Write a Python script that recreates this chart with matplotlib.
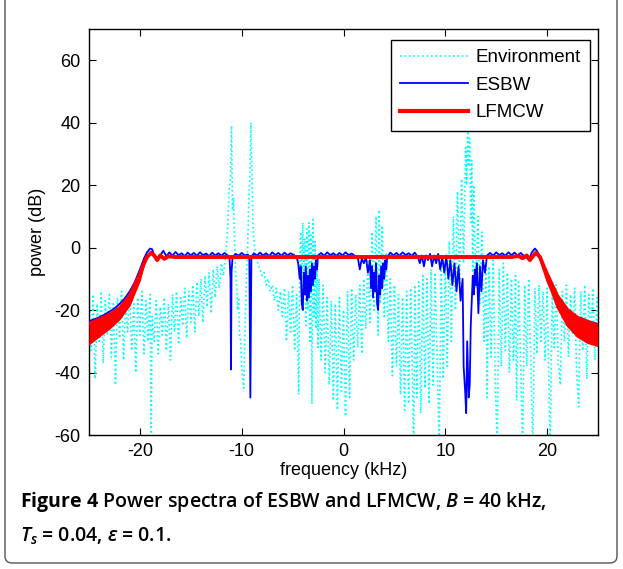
import numpy as np
import matplotlib
matplotlib.use("Agg")
import matplotlib.pyplot as plt
from matplotlib.patches import FancyBboxPatch
from matplotlib.lines import Line2D

# ---------------- data ----------------
env_freq = [-25.0, -24.8, -24.6, -24.4, -24.2, -24.0, -23.8, -23.6, -23.4, -23.2,
            -23.0, -22.8, -22.6, -22.4, -22.2, -22.0, -21.8, -21.6, -21.4, -21.2,
            -21.0, -20.8, -20.6, -20.4, -20.2, -20.0, -19.8, -19.6, -19.4, -19.2,
            -19.0, -18.9, -18.8, -18.6, -18.4, -18.2, -18.0, -17.8, -17.6, -17.4,
            -17.2, -17.0, -16.8, -16.6, -16.4, -16.2, -16.0, -15.8, -15.6, -15.4,
            -15.2, -15.0, -14.8, -14.6, -14.4, -14.2, -14.0, -13.8, -13.6, -13.4,
            -13.2, -13.0, -12.8, -12.6, -12.4, -12.2, -12.0, -11.8, -11.6, -11.4,
            -11.25, -11.1, -11.0, -10.9, -10.8, -10.7, -10.6, -10.5, -10.4, -10.3,
            -10.2, -10.1, -10.0, -9.9, -9.8, -9.7, -9.6, -9.5, -9.4, -9.3,
            -9.2, -9.1, -9.0, -8.9, -8.8, -8.6, -8.4, -8.2, -8.0, -7.8,
            -7.6, -7.4, -7.2, -7.0, -6.8, -6.6, -6.4, -6.2, -6.0, -5.8,
            -5.6, -5.4, -5.2, -5.0, -4.8, -4.6, -4.4, -4.3, -4.2, -4.1,
            -4.0, -3.9, -3.8, -3.7, -3.6, -3.5, -3.4, -3.3, -3.2, -3.1,
            -3.0, -2.9, -2.8, -2.7, -2.6, -2.5, -2.4, -2.2, -2.0, -1.8,
            -1.6, -1.4, -1.2, -1.0, -0.8, -0.6, -0.4, -0.2, 0.0, 0.2,
            0.4, 0.6, 0.8, 1.0, 1.2, 1.4, 1.6, 1.8, 2.0, 2.2,
            2.4, 2.6, 2.8, 3.0, 3.2, 3.4, 3.5, 3.6, 3.8, 4.0,
            4.2, 4.4, 4.6, 4.8, 5.0, 5.2, 5.4, 5.6, 5.8, 6.0,
            6.2, 6.4, 6.6, 6.9, 7.0, 7.2, 7.4, 7.6, 7.8, 8.0,
            8.2, 8.4, 8.6, 8.8, 9.0, 9.4, 9.6, 9.8, 10.0, 10.2,
            10.4, 10.6, 10.8, 11.0, 11.2, 11.4, 11.6, 11.8, 12.0, 12.1,
            12.2, 12.3, 12.4, 12.5, 12.6, 12.7, 12.8, 13.0, 13.2, 13.4,
            13.6, 13.8, 14.0, 14.1, 14.3, 14.5, 14.7, 14.9, 15.1, 15.3,
            15.5, 15.7, 15.9, 16.1, 16.3, 16.5, 16.7, 16.9, 17.0, 17.2,
            17.6, 17.8, 18.0, 18.2, 18.6, 18.8, 19.0, 19.2, 19.4, 19.6,
            19.8, 20.0, 20.3, 20.5, 20.7, 20.9, 21.1, 21.3, 21.5, 21.7,
            21.9, 22.1, 22.3, 22.5, 22.7, 22.9, 23.1, 23.3, 23.5, 23.7,
            23.9, 24.1, 24.3, 24.5, 24.7, 24.9, 25.0]
env_power = [-16, -33, -15, -42, -18, -30, -14, -37, -17, -28,
             -15, -35, -18, -44, -16, -29, -14, -36, -17, -27,
             -15, -33, -18, -40, -16, -28, -14, -34, -17, -30,
             -15, -66, -22, -30, -17, -34, -19, -28, -16, -33,
             -18, -36, -15, -27, -14, -31, -16, -25, -13, -29,
             -14, -24, -12, -27, -11, -22, -10, -24, -9, -19,
             -8, -21, -7, -16, -6, -13, -5, -9, -3, 5,
             18, 22, 39, 12, 16, 2, -8, -12, -20, -16,
             -28, -30, -38, -42, -45, -30, -18, -5, 2, 15,
             22, 40, 24, 8, 2, -3, -5, -7, -9, -8,
             -12, -10, -14, -12, -17, -13, -20, -14, -22, -13,
             -30, -14, -27, -12, -33, -15, -47, -5, 5, -18,
             8, -15, 3, -25, 6, -20, 8, -30, 4, -50,
             9, -22, 2, -26, -6, -32, -10, -36, -12, -40,
             -16, -44, -17, -49, -18, -52, -16, -46, -20, -54,
             -14, -48, -13, -36, -15, -32, -12, -34, -10, -26,
             -3, -24, 5, -20, 10, -28, 12, -18, 7, -22,
             -2, -30, -10, -41, -12, -38, -15, -47, -16, -52,
             -14, -50, -13, -64, -12, -48, -11, -53, -9, -45,
             -10, -50, -7, -44, -8, -64, -6, -42, -5, -38,
             2, -30, 10, -20, 18, -12, 22, -5, 32, 20,
             38, 26, 35, 8, 28, -8, 20, -13, 10, -18,
             5, -30, -5, -48, -6, -35, -4, -42, -64, -7,
             -38, -5, -33, -8, -40, -10, -36, -9, -49, -11,
             -64, -12, -38, -10, -64, -13, -34, -12, -30, -14,
             -36, -13, -64, -15, -32, -12, -37, -44, -14, -30,
             -12, -35, -15, -28, -13, -40, -51, -14, -33, -12,
             -42, -15, -30, -13, -36, -16, -28]

esbw_freq = [-25.0, -24.5, -24.0, -23.5, -23.0, -22.5, -22.0, -21.5, -21.0, -20.5,
             -20.0, -19.6, -19.3, -19.0, -18.8, -18.6, -18.3, -18.0, -17.7, -17.4,
             -17.1, -16.8, -16.5, -16.2, -15.9, -15.6, -15.3, -15.0, -14.7, -14.4,
             -14.1, -13.8, -13.5, -13.2, -12.9, -12.6, -12.3, -12.0, -11.7, -11.4,
             -11.2, -11.1, -11.05, -11.0, -10.9, -10.6, -10.3, -10.0, -9.7, -9.4,
             -9.25, -9.15, -9.05, -8.8, -8.5, -8.2, -7.9, -7.6, -7.3, -7.0,
             -6.7, -6.4, -6.1, -5.8, -5.5, -5.2, -4.9, -4.6, -4.45, -4.3,
             -4.2, -4.1, -4.0, -3.9, -3.8, -3.7, -3.6, -3.5, -3.4, -3.3,
             -3.2, -3.1, -3.0, -2.9, -2.8, -2.7, -2.6, -2.5, -2.2, -1.9,
             -1.6, -1.3, -1.0, -0.7, -0.4, -0.1, 0.2, 0.5, 0.8, 1.1,
             1.4, 1.6, 1.8, 2.0, 2.2, 2.4, 2.6, 2.7, 2.8, 2.9,
             3.0, 3.1, 3.2, 3.3, 3.4, 3.5, 3.6, 3.7, 3.8, 3.9,
             4.0, 4.1, 4.2, 4.3, 4.6, 4.9, 5.2, 5.5, 5.8, 6.1,
             6.4, 6.7, 7.0, 7.3, 7.5, 7.7, 7.9, 8.1, 8.3, 8.5,
             8.7, 8.9, 9.1, 9.3, 9.5, 9.7, 9.9, 10.1, 10.3, 10.5,
             10.7, 10.9, 11.1, 11.3, 11.5, 11.7, 11.8, 11.95, 12.05, 12.15,
             12.3, 12.4, 12.5, 12.6, 12.7, 12.8, 12.9, 13.0, 13.1, 13.25,
             13.4, 13.55, 13.7, 13.9, 14.1, 14.4, 14.7, 15.0, 15.3, 15.6,
             15.9, 16.2, 16.5, 16.8, 17.1, 17.4, 17.7, 18.0, 18.2, 18.5,
             18.8, 19.0, 19.3, 19.6, 20.0, 20.3, 20.6, 21.0, 21.5, 22.0,
             22.5, 23.0, 23.5, 24.0, 24.5, 25.0]
esbw_power = [-23.5, -23, -22.3, -21.5, -20.5, -19.5, -18, -16.3, -14, -11,
              -7, -3.5, -1.5, -0.3, -0.5, -2.5, -4, -2.5, -1, -2.8,
              -1.5, -2.6, -1.4, -2.4, -1.8, -2.7, -1.6, -2.5, -1.7, -2.6,
              -1.5, -2.4, -1.9, -2.7, -1.6, -2.5, -1.8, -2.6, -1.7, -2.4,
              -3, -10, -39, -8, -3, -2, -2.6, -1.7, -2.5, -2.2,
              -3, -48, -3, -1.8, -2.6, -1.6, -2.5, -1.8, -2.7, -1.5,
              -2.4, -1.7, -2.6, -1.6, -2.5, -1.8, -2.3, -3, -5, -10,
              -6, -18, -20, -8, -15, -6, -17, -9, -16, -7,
              -14, -5, -12, -6, -10, -4, -7, -2.5, -1.7, -2.6,
              -1.5, -2.4, -1.8, -2.6, -1.7, -2.5, -1.5, -2.4, -1.9, -2.6,
              -3, -7, -3.5, -5, -3, -8, -4, -13, -6, -16,
              -8, -14, -5, -18, -20, -9, -15, -6, -13, -5,
              -10, -4, -7, -3, -1.6, -2.5, -1.7, -2.6, -1.5, -2.4,
              -1.8, -2.6, -1.6, -3, -5, -2.5, -6, -2.5, -4, -2,
              -6, -2.5, -5, -2, -7, -3, -8, -2.5, -10, -4,
              -12, -5, -14, -6, -17, -10, -38, -46, -53, -30,
              -48, -44, -25, -17, -9, -15, -7, -12, -5, -21,
              -6, -14, -4, -8, -2.5, -1.7, -2.6, -1.5, -2.4, -1.8,
              -2.6, -1.5, -2.4, -1.6, -2.5, -1.7, -2.6, -3.2, -4, -1.5,
              -0.3, -1, -3, -5.5, -8.5, -11, -13.8, -16.5, -19, -20.5,
              -21.5, -22.2, -22.8, -23.5, -24, -24.4]

lfm_freq = [-25.0, -24.0, -23.0, -22.0, -21.0, -20.5, -20.0, -19.6, -19.3, -18.9,
            -18.6, -18.3, -18.0, -17.6, -17.2, -16.5, 16.5, 17.2, 17.6, 18.0,
            18.3, 18.6, 18.9, 19.3, 19.6, 20.0, 20.5, 21.0, 22.0, 23.0,
            24.0, 25.0]
lfm_upper = [-24.5, -23, -21.5, -19.5, -15.5, -12, -8.5, -5, -3, -1.6,
             -2.5, -4, -2.5, -3.6, -2.8, -3, -3, -2.7, -3.4, -2.5,
             -4, -2.8, -1.6, -3, -5.5, -8.5, -12, -15.5, -20, -22.5,
             -23.8, -25]
lfm_lower = [-31, -28.5, -26, -23, -18.5, -14.5, -10.5, -5.5, -3, -1.6,
             -2.5, -4, -2.5, -3.6, -2.8, -3, -3, -2.7, -3.4, -2.5,
             -4, -2.8, -1.6, -3.2, -6.5, -10.5, -14.5, -19, -25, -28.5,
             -30.5, -31.5]

series_labels = ["Environment", "ESBW", "LFMCW"]
x_ticks = [-20, -10, 0, 10, 20]
y_ticks = [-60, -40, -20, 0, 20, 40, 60]

# ---------------- figure ----------------
plt.rcParams['font.family'] = ['Liberation Sans', 'DejaVu Sans']
plt.rcParams['axes.unicode_minus'] = False
plt.rcParams['mathtext.fontset'] = 'custom'
plt.rcParams['mathtext.rm'] = 'Open Sans:semibold'
plt.rcParams['mathtext.it'] = 'Open Sans:italic:semibold'
plt.rcParams['mathtext.bf'] = 'Open Sans:bold'

fig = plt.figure(figsize=(6.23, 5.69), dpi=100)
ax = fig.add_axes([89/623, 1-435/569, 509/623, 406/569])

CYAN = (0, 1, 1)
BLUE = (0, 0, 1)
RED = (1, 0, 0)

ax.plot(env_freq, env_power, color=CYAN, ls=':', lw=1.2, zorder=2)
ax.plot(esbw_freq, esbw_power, color=BLUE, lw=1.3, zorder=3)
ax.fill_between(lfm_freq, lfm_lower, lfm_upper, color=RED, lw=0, zorder=4)
ax.plot(lfm_freq, lfm_upper, color=RED, lw=2.8, zorder=5, solid_capstyle='butt')
ax.plot(lfm_freq, lfm_lower, color=RED, lw=1.5, zorder=5)

ax.set_xlim(-25, 25)
ax.set_ylim(-60, 70)
ax.set_xticks(x_ticks)
ax.set_yticks(y_ticks)
ax.tick_params(direction='in', length=5, width=0.8, top=True, right=True,
               labelsize=13, pad=6)
for s in ax.spines.values():
    s.set_linewidth(1.0)
ax.set_xlabel("frequency (kHz)", fontsize=13, labelpad=1)
ax.set_ylabel("power (dB)", fontsize=13, labelpad=6)

handles = [Line2D([], [], color=CYAN, ls=':', lw=1.2),
           Line2D([], [], color=BLUE, lw=1.3),
           Line2D([], [], color=RED, lw=3)]
leg = ax.legend(handles, series_labels, loc='upper right',
                bbox_to_anchor=(0.984, 0.973), fontsize=13.5, frameon=True,
                fancybox=False, framealpha=1, edgecolor='black',
                handlelength=3.6, handletextpad=0.4, labelspacing=0.55,
                borderpad=0.5, borderaxespad=0)
leg.get_frame().set_linewidth(1.0)

# caption
fig.text(20/623, 1-502/569, r"$\mathbf{Figure\ 4}$ Power spectra of ESBW and LFMCW, $B$ = 40 kHz,",
         fontsize=14.0, family='Open Sans', weight='semibold', va='center', ha='left')
fig.text(20/623, 1-536/569, r"$T_s$ = 0.04, $\varepsilon$ = 0.1.",
         fontsize=14.0, family='Open Sans', weight='semibold', va='center', ha='left')

# rounded frame (top edge cropped off, as in the reference)
frame = FancyBboxPatch((5/623, 6/569), 612/623, 620/569,
                       boxstyle="round,pad=0,rounding_size=0.012",
                       transform=fig.transFigure, fill=False,
                       edgecolor='#555555', lw=1.0, clip_on=False)
fig.patches.append(frame)

fig.savefig("out.png", dpi=100)
